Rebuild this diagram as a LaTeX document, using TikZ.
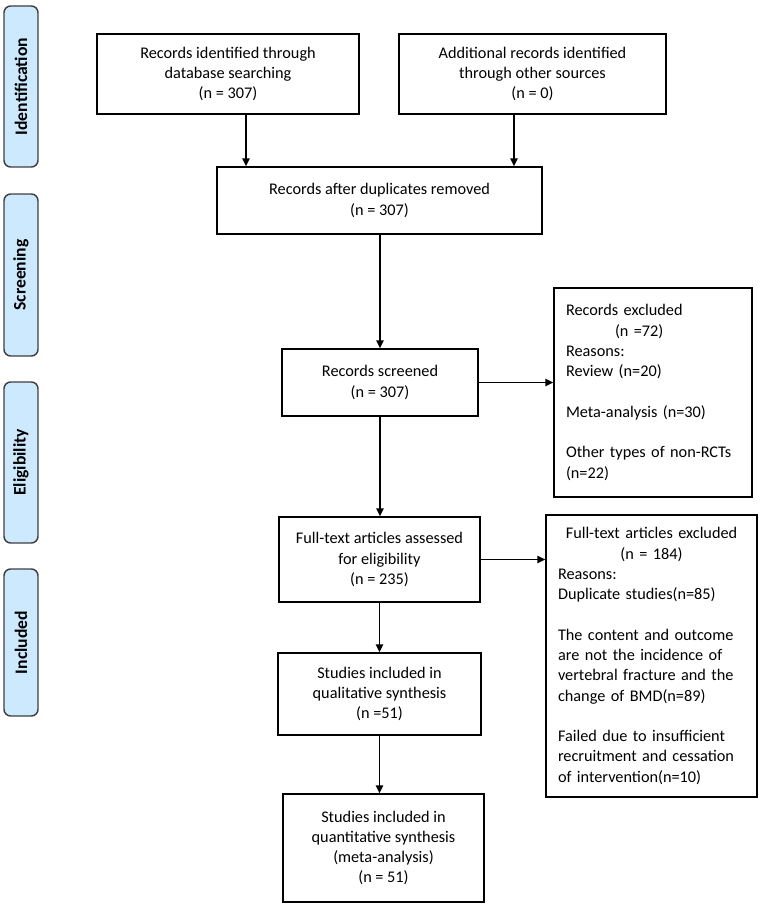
\documentclass[tikz,border=0pt]{standalone}
\usepackage{fontspec}
\setmainfont{Carlito}
\usetikzlibrary{arrows.meta}
\definecolor{sideblue}{RGB}{205,233,254}
\definecolor{sideedge}{RGB}{64,64,64}
\begin{document}
\begin{tikzpicture}[x=0.75pt,y=-0.75pt,
  txt/.style={font=\fontsize{12.2}{15.2}\selectfont},
  box/.style={draw=black, line width=1pt, fill=white, align=center, inner sep=0pt, txt},
  sidebox/.style={draw=sideedge, line width=1.1pt, fill=sideblue, rounded corners=5pt,
    rotate=90, font=\fontsize{13.2}{15}\selectfont\bfseries, minimum height=25.5pt, inner sep=0pt},
  arr/.style={-{Triangle[length=6pt,width=5.5pt]}, line width=1.1pt}
]
\useasboundingbox (0,0) rectangle (760,906);

% phase labels
\node[sidebox, minimum width=120.75pt] (s1) at (21,86.5) {Identification};
\node[sidebox, minimum width=121.5pt] (s2) at (21,275) {Screening};
\node[sidebox, minimum width=120.75pt] (s3) at (21,462.5) {Eligibility};
\node[sidebox, minimum width=110.25pt] (s4) at (21,642.5) {Included};

% boxes
\node[box, minimum width=196.5pt, minimum height=60pt] (b1) at (228,74)
  {Records identified through\\database searching\\(n = 307)};
\node[box, minimum width=200.25pt, minimum height=60pt] (b2) at (532.5,74)
  {Additional records identified\\through other sources\\(n = 0)};
\node[box, minimum width=243.75pt, minimum height=50.25pt] (b3) at (379.5,200.5)
  {Records after duplicates removed\\(n = 307)};
\node[box, minimum width=147pt, minimum height=50.25pt] (b4) at (380,382.5)
  {Records screened\\(n = 307)};
\node[box, align=left, text width=130.5pt, inner xsep=9pt, minimum height=156.75pt] (b5) at (653,392.5)
  {Records excluded\\
   \hspace*{36.75pt}(n =72)\\
   Reasons:\\
   Review (n=20)\\
   \mbox{}\\
   Meta-analysis (n=30)\\
   \mbox{}\\
   Other types of non-RCTs\\
   (n=22)};
\node[box, minimum width=150.75pt, minimum height=63.75pt] (b6) at (379.5,559.5)
  {Full-text articles assessed\\for eligibility\\(n = 235)};
\node[box, align=left, text width=140.25pt, inner xsep=9pt, minimum height=211.5pt] (b7) at (651.5,656)
  {\makebox[140.25pt]{Full-text articles excluded}\\
   \makebox[140.25pt]{(n = 184)}\\
   Reasons:\\
   Duplicate studies(n=85)\\
   \mbox{}\\
   The content and outcome\\
   are not the incidence of\\
   vertebral fracture and the\\
   change of BMD(n=89)\\
   \mbox{}\\
   Failed due to insufficient\\
   recruitment and cessation\\
   of intervention(n=10)};
\node[box, minimum width=152.25pt, minimum height=61.5pt] (b8) at (379.5,694)
  {Studies included in\\qualitative synthesis\\(n =51)};
\node[box, minimum width=150.75pt, minimum height=81pt] (b9) at (383.5,848)
  {Studies included in\\quantitative synthesis\\(meta-analysis)\\(n = 51)};

% connectors
\coordinate (a1) at (246,0);
\coordinate (a2) at (514,0);
\draw[arr] (b1.south -| a1) -- (b3.north -| a1);
\draw[arr] (b2.south -| a2) -- (b3.north -| a2);
\draw[arr] (b3.south -| b4.north) -- (b4.north);
\draw[arr] (b4.east) -- (b4.east -| b5.west);
\draw[arr] (b4.south) -- (b4.south |- b6.north);
\draw[arr] (b6.east) -- (b6.east -| b7.west);
\draw[arr] (b6.south) -- (b6.south |- b8.north);
\draw[arr] (b8.south) -- (b8.south |- b9.north);
\end{tikzpicture}
\end{document}
